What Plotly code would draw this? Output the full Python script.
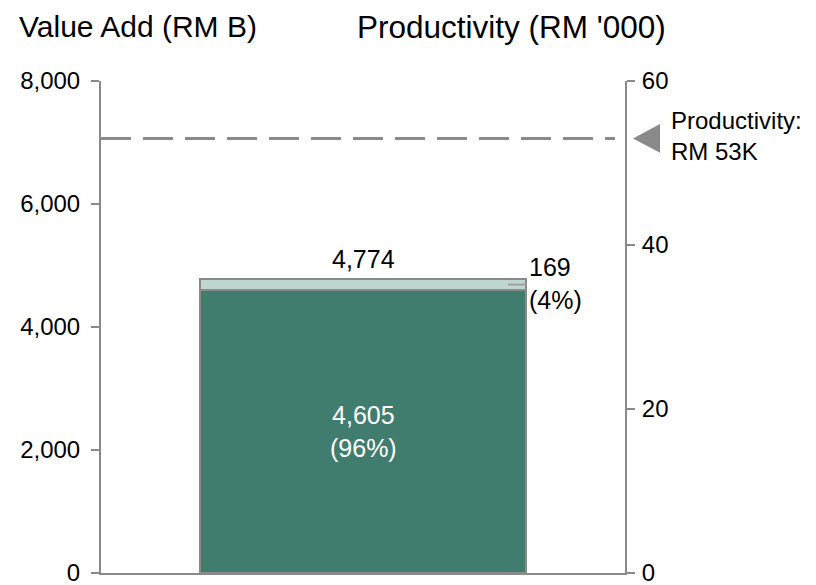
import plotly.graph_objects as go

# Value add split (RM B) and productivity (RM '000)
categories = ["Total"]
base_value = [4605]
top_value = [169]
base_share = ["96%"]
top_share = ["4%"]
total_value = [4774]
productivity = [53]

left_ticks = [0, 2000, 4000, 6000, 8000]
right_ticks = [0, 20, 40, 60]

W, H = 816, 585
ML, MR, MT, MB = 101, 191, 81, 12
PW = W - ML - MR
PH = H - MT - MB

FONT = "Liberation Sans, Arial, sans-serif"
GRAY = "#8a8a8a"


def px_x(p):
    return (p - ML) / PW


def px_y(p):
    return 1 - (p - MT) / PH


fig = go.Figure()
fig.add_trace(go.Bar(
    x=categories, y=base_value, marker=dict(color="#417d6e", line=dict(color=GRAY, width=2)),
    hoverinfo="skip", showlegend=False,
))
fig.add_trace(go.Bar(
    x=categories, y=top_value, marker=dict(color="#c0d6d0", line=dict(color=GRAY, width=2)),
    hoverinfo="skip", showlegend=False,
))
# invisible trace to activate the right-hand axis
fig.add_trace(go.Scatter(x=categories, y=productivity, yaxis="y2", mode="markers",
                         marker=dict(opacity=0), hoverinfo="skip", showlegend=False))

axis_common = dict(showgrid=False, zeroline=False, showline=True, linecolor=GRAY, linewidth=2,
                   ticks="outside", ticklen=8, tickwidth=2, tickcolor=GRAY,
                   tickfont=dict(size=24, color="black"), ticklabeloverflow="allow",
                   automargin=False)

fig.update_layout(
    width=W, height=H,
    margin=dict(l=ML, r=MR, t=MT, b=MB, autoexpand=False),
    barmode="stack", bargap=0.376,
    plot_bgcolor="white", paper_bgcolor="white",
    font=dict(family=FONT, size=24, color="black"),
    xaxis=dict(showticklabels=False, showgrid=False, zeroline=False, showline=True,
               linecolor=GRAY, linewidth=2, ticks="", range=[-0.5, 0.5]),
    yaxis=dict(range=[0, 8000], tickvals=left_ticks, tickformat=",d",
               ticklabelstandoff=6, **axis_common),
    yaxis2=dict(range=[0, 60], tickvals=right_ticks, overlaying="y", side="right",
                ticklabelstandoff=2, **axis_common),
)

# productivity reference line
fig.add_shape(type="line", xref="paper", yref="y2", x0=0, x1=px_x(615),
              y0=productivity[0], y1=productivity[0],
              line=dict(color=GRAY, width=3, dash="30px,12px"))
# pointer triangle
tx0, tx1 = px_x(633), px_x(660)
p = productivity[0]
fig.add_shape(type="path", xref="paper", yref="y2",
              path=f"M {tx0},{p} L {tx1},{p + 1.75} L {tx1},{p - 1.75} Z",
              fillcolor=GRAY, line=dict(width=0))
fig.add_annotation(xref="paper", yref="y2", x=px_x(669), y=p, yshift=2, xanchor="left",
                   yanchor="middle", text=f"Productivity:<br>RM {p}K", align="left",
                   showarrow=False, font=dict(size=24))

# leader from the top slice to its label
mid_top = base_value[0] + top_value[0] / 2
fig.add_shape(type="line", xref="x", yref="y", x0=0.277, x1=0.312, y0=mid_top, y1=mid_top,
              line=dict(color="#a0a0a0", width=2))

fig.add_annotation(x=categories[0], y=total_value[0], yanchor="bottom", yshift=4,
                   text=f"{total_value[0]:,}", showarrow=False, font=dict(size=25))
fig.add_annotation(xref="paper", x=px_x(527), y=mid_top, yshift=1, xanchor="left",
                   yanchor="middle", text=f"{top_value[0]:,}<br>({top_share[0]})",
                   align="left", showarrow=False, font=dict(size=25))
fig.add_annotation(x=categories[0], y=base_value[0] / 2, yanchor="middle",
                   text=f"{base_value[0]:,}<br>({base_share[0]})", align="center",
                   showarrow=False, font=dict(size=25, color="white"))

# axis titles above the plot
fig.add_annotation(xref="paper", yref="paper", x=px_x(17), y=px_y(27), xanchor="left",
                   yanchor="middle", text="Value Add (RM B)", showarrow=False,
                   font=dict(size=30))
fig.add_annotation(xref="paper", yref="paper", x=px_x(355), y=px_y(27), xanchor="left",
                   yanchor="middle", text="Productivity (RM '000)", showarrow=False,
                   font=dict(size=31.5))

fig.write_html("out.html")
